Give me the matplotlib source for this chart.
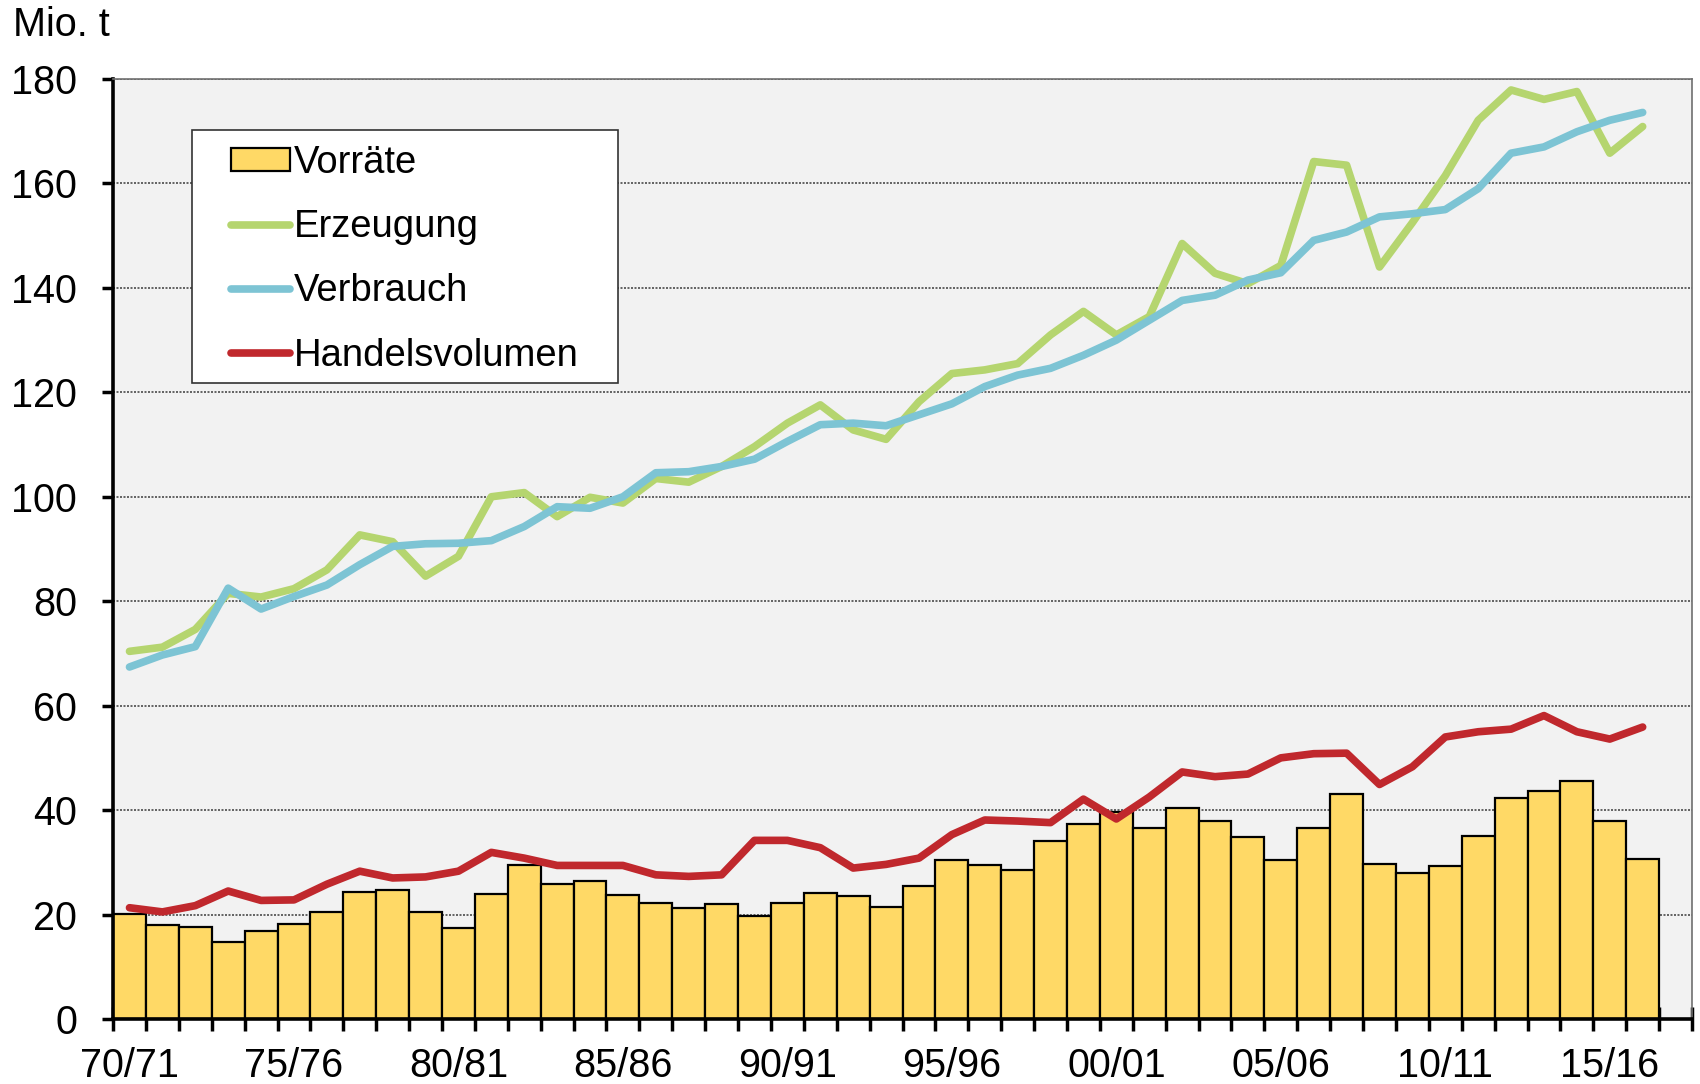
"""Weltmarkt: Vorräte, Erzeugung, Verbrauch, Handelsvolumen (Mio. t), 70/71 - 16/17."""
import matplotlib
matplotlib.use('Agg')
import matplotlib.pyplot as plt
from matplotlib.patches import Rectangle

plt.rcParams['font.family'] = ['Liberation Sans', 'DejaVu Sans']

seasons = ['70/71', '71/72', '72/73', '73/74', '74/75', '75/76', '76/77', '77/78', '78/79', '79/80',
           '80/81', '81/82', '82/83', '83/84', '84/85', '85/86', '86/87', '87/88', '88/89', '89/90',
           '90/91', '91/92', '92/93', '93/94', '94/95', '95/96', '96/97', '97/98', '98/99', '99/00',
           '00/01', '01/02', '02/03', '03/04', '04/05', '05/06', '06/07', '07/08', '08/09', '09/10',
           '10/11', '11/12', '12/13', '13/14', '14/15', '15/16', '16/17']
tick_labels = ['70/71', '75/76', '80/81', '85/86', '90/91', '95/96', '00/01', '05/06', '10/11', '15/16']

vorraete = [20.1, 18.0, 17.7, 14.7, 16.9, 18.2, 20.5, 24.4, 24.7, 20.4,
            17.4, 24.0, 29.4, 25.8, 26.5, 23.7, 22.3, 21.2, 22.0, 19.8,
            22.3, 24.1, 23.5, 21.5, 25.5, 30.4, 29.5, 28.6, 34.0, 37.4,
            39.7, 36.6, 40.4, 37.9, 34.8, 30.4, 36.6, 43.0, 29.6, 28.0,
            29.3, 35.0, 42.3, 43.7, 45.6, 37.9, 30.6]
erzeugung = [70.4, 71.2, 74.6, 81.5, 80.8, 82.4, 86.0, 92.7, 91.4, 84.8,
             88.6, 100.0, 100.8, 96.2, 99.9, 98.8, 103.5, 102.8, 105.8, 109.6,
             114.1, 117.6, 112.8, 111.0, 118.2, 123.6, 124.3, 125.5, 131.0, 135.5,
             131.0, 134.5, 148.5, 142.8, 140.8, 144.3, 164.2, 163.5, 144.0, 152.5,
             161.5, 172.1, 177.9, 176.1, 177.6, 165.8, 170.9]
verbrauch = [67.4, 69.7, 71.3, 82.5, 78.5, 80.9, 83.1, 87.0, 90.5, 91.0,
             91.1, 91.6, 94.3, 98.1, 97.8, 100.0, 104.6, 104.8, 105.8, 107.2,
             110.6, 113.8, 114.1, 113.6, 115.7, 117.8, 121.1, 123.3, 124.6, 127.1,
             130.0, 133.8, 137.6, 138.6, 141.5, 142.9, 149.1, 150.7, 153.6, 154.2,
             155.0, 159.0, 165.8, 167.0, 169.9, 172.1, 173.6]
handel = [21.3, 20.5, 21.7, 24.5, 22.7, 22.8, 25.8, 28.3, 27.0, 27.2,
          28.3, 31.9, 30.8, 29.4, 29.4, 29.4, 27.6, 27.3, 27.6, 34.2,
          34.2, 32.8, 28.9, 29.6, 30.8, 35.3, 38.1, 37.9, 37.6, 42.1,
          38.3, 42.5, 47.3, 46.4, 46.9, 50.0, 50.8, 50.9, 44.9, 48.3,
          54.0, 55.0, 55.5, 58.1, 55.0, 53.6, 55.9]

C_BAR = '#FFD966'
C_GREEN = '#B5D56F'
C_BLUE = '#7DC4D4'
C_RED = '#C0282D'
FS = 28.5


def main():
    fig = plt.figure(figsize=(17, 10.84), dpi=100)
    ax = fig.add_axes([0.0665, 0.06, 0.9288, 0.8671])
    ax.set_facecolor('#F2F2F2')

    x = list(range(len(seasons)))
    bars = ax.bar(x, vorraete, width=1.0, color=C_BAR, edgecolor='black',
                  linewidth=1.6, label='Vorräte', zorder=2)
    lkw = dict(linewidth=5.5, solid_capstyle='round', solid_joinstyle='round', zorder=3)
    l_erz, = ax.plot(x, erzeugung, color=C_GREEN, label='Erzeugung', **lkw)
    l_ver, = ax.plot(x, verbrauch, color=C_BLUE, label='Verbrauch', **lkw)
    l_han, = ax.plot(x, handel, color=C_RED, label='Handelsvolumen', **lkw)

    ax.set_xlim(-0.5, len(seasons) + 0.5)
    ax.set_ylim(0, 180)
    ax.set_yticks(range(0, 181, 20))
    ax.yaxis.grid(True, color='#4a4a4a', linestyle=(0, (1.2, 0.9)), linewidth=1.2)
    ax.set_axisbelow(True)

    # ticks between categories, labels every five seasons
    ax.set_xticks([i - 0.5 for i in range(len(seasons) + 2)])
    ax.set_xticklabels([])
    ax.tick_params(axis='x', which='major', direction='inout', length=17, width=2.5)
    ax.set_xticks([seasons.index(t) for t in tick_labels], minor=True)
    ax.set_xticklabels(tick_labels, minor=True, fontsize=FS)
    ax.tick_params(axis='x', which='minor', length=0, pad=20)
    ax.tick_params(axis='y', direction='out', length=8, width=2.5, labelsize=FS, pad=18)

    for s in ('left', 'bottom'):
        ax.spines[s].set_linewidth(2.6)
        ax.spines[s].set_color('black')
    for s in ('top', 'right'):
        ax.spines[s].set_linewidth(1.2)
        ax.spines[s].set_color('#6f6f6f')

    fig.text(0.0076, 0.977, 'Mio. t', fontsize=FS, ha='left', va='center')

    # legend box drawn separately (Excel-like wide padding)
    ax.add_patch(Rectangle((0.0502, 0.6766), 0.2693, 0.2691, transform=ax.transAxes,
                           facecolor='white', edgecolor='#333333', linewidth=1.2, zorder=4))
    leg = ax.legend([bars, l_erz, l_ver, l_han],
                    ['Vorräte', 'Erzeugung', 'Verbrauch', 'Handelsvolumen'],
                    loc='upper left', bbox_to_anchor=(0.0745, 0.930), frameon=False,
                    fontsize=27.5, handlelength=1.55, handleheight=0.55, handletextpad=0.1,
                    labelspacing=0.74, borderpad=0, borderaxespad=0)
    leg.set_zorder(5)

    fig.savefig('out.png', dpi=100)


if __name__ == '__main__':
    main()
